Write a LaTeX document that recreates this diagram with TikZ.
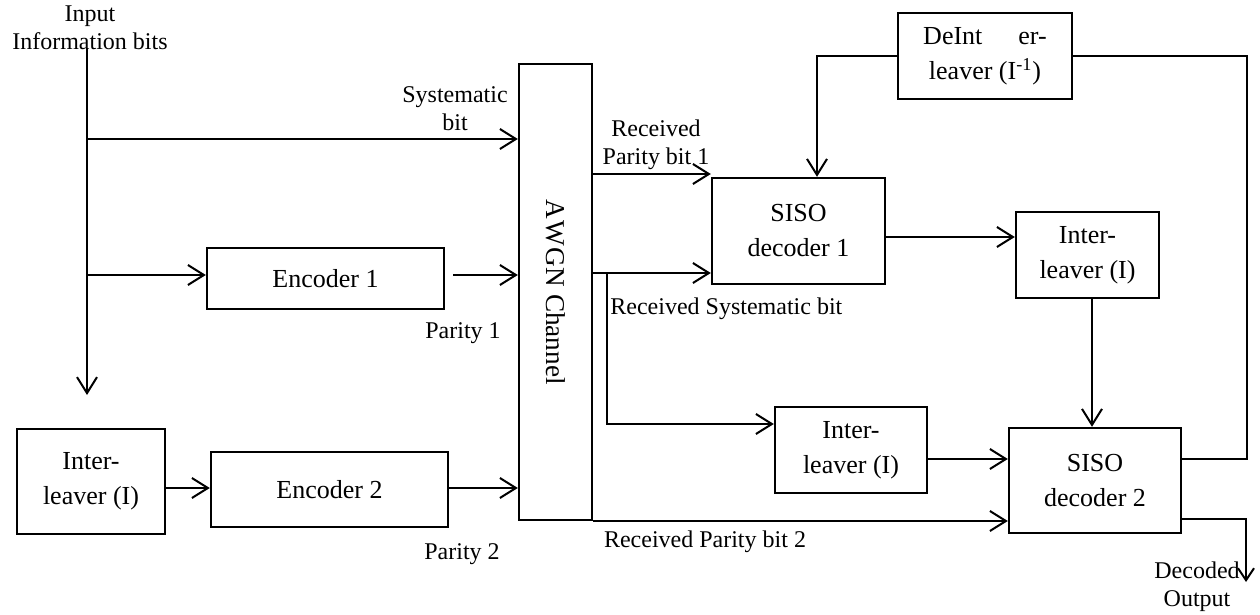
\documentclass[tikz,border=0pt]{standalone}
\usepackage{fontspec}
\setmainfont{Liberation Serif}
\usetikzlibrary{arrows.meta}
\begin{document}
\begin{tikzpicture}[x=0.5pt,y=-0.5pt,
  blk/.style={draw,line width=1.2pt,inner sep=0pt,align=center,font=\fontsize{13}{17.5}\selectfont},
  lbl/.style={inner sep=0pt,align=center,font=\fontsize{12}{14}\selectfont},
  wire/.style={line width=1pt},
  thin/.style={line width=0.6pt},
  arr/.style={-{Straight Barb[length=8pt,width=10pt,line width=1pt]}},
  sarr/.style={-{Straight Barb[length=6pt,width=8pt,line width=1pt]}}]
\useasboundingbox (0,0) rectangle (1260,615);
% blocks
\node[blk,minimum width=36.5pt,minimum height=228pt] (awgn) at (555.5,292) {};
\node[rotate=-90,font=\fontsize{13.6}{17.5}\selectfont] (awgnt) at (awgn.center) {A\kern1pt W\kern0.7pt GN Channel};
\node[blk,minimum width=118.5pt,minimum height=30.5pt] (enc1) at (325.5,278.5) {Encoder 1};
\node[blk,minimum width=118.5pt,minimum height=37.5pt] (enc2) at (329.5,489.5) {Encoder 2};
\node[blk,minimum width=74pt,minimum height=52.5pt] (intl) at (91,481.5) {Inter-\\leaver (I)};
\node[blk,minimum width=86.5pt,minimum height=53pt] (siso1) at (798.5,231) {SISO\\decoder 1};
\node[blk,minimum width=71.5pt,minimum height=43pt] (intu) at (1087.5,255) {Inter-\\leaver (I)};
\node[blk,minimum width=76pt,minimum height=43pt] (intd) at (851,450) {Inter-\\leaver (I)};
\node[blk,minimum width=86pt,minimum height=52.5pt] (siso2) at (1095,480.5) {SISO\\decoder 2};
\node[blk,minimum width=87pt,minimum height=43pt] (deint) at (985,56) {DeInt\hspace{18pt}er-\\leaver (I\textsuperscript{-1})};
% labels
\node[lbl] (lin) at (90,28) {Input\\Information bits};
\node[lbl] (lsys) at (455,109) {Systematic\\bit};
\node[lbl] (lrp1) at (656,145) {Received\\Parity bit 1};
\node[lbl,anchor=west] (lrs) at (610,309) {Received Systematic bit};
\node[lbl] (lp1) at (463,333) {Parity 1};
\node[lbl] (lp2) at (462,554) {Parity 2};
\node[lbl] (lrp2) at (705,542) {Received Parity bit 2};
\node[lbl] (lout) at (1197,587) {Decoded\\Output};
% coordinates
\coordinate (top) at (87,48);
\coordinate (tend) at (87,395);
\coordinate (s1) at (87,139);
\coordinate (s2) at (87,275);
\coordinate (e1o) at (453,275);
\coordinate (br) at (607,273);
\coordinate (brd) at (607,424);
\coordinate (fbr) at (1247,459);
\coordinate (fbt) at (1247,56);
\coordinate (dl) at (817,56);
\coordinate (oc) at (1246,519);
\coordinate (oe) at (1246,582);
% connectors
\draw[wire,arr] (top) -- (tend);
\draw[wire,arr] (s1) -- (awgn.west |- s1);
\draw[wire,arr] (s2) -- (enc1.west |- s2);
\draw[wire,arr] (e1o) -- (awgn.west |- e1o);
\draw[wire,arr] (intl.east |- 0,488) -- (enc2.west |- 0,488);
\draw[wire,arr] (enc2.east |- 0,488) -- (awgn.west |- 0,488);
\draw[wire,arr] (awgn.east |- 0,174) -- (siso1.west |- 0,174);
\draw[wire,arr] (awgn.east |- br) -- (siso1.west |- br);
\draw[wire,arr] (br) -- (brd) -- (intd.west |- brd);
\draw[wire,arr] (awgn.east |- 0,521) -- (siso2.west |- 0,521);
\draw[wire,arr] (intd.east |- 0,459) -- (siso2.west |- 0,459);
\draw[wire,arr] (siso1.east |- 0,237) -- (intu.west |- 0,237);
\draw[wire,arr] (intu.south -| 1092,0) -- (siso2.north -| 1092,0);
\draw[thin] (siso2.east |- fbr) -- (fbr) -- (fbt) -- (deint.east |- fbt);
\draw[thin,arr] (deint.west |- dl) -- (dl) -- (siso1.north -| dl);
\draw[thin,sarr] (siso2.east |- oc) -- (oc) -- (oe);
\end{tikzpicture}
\end{document}
